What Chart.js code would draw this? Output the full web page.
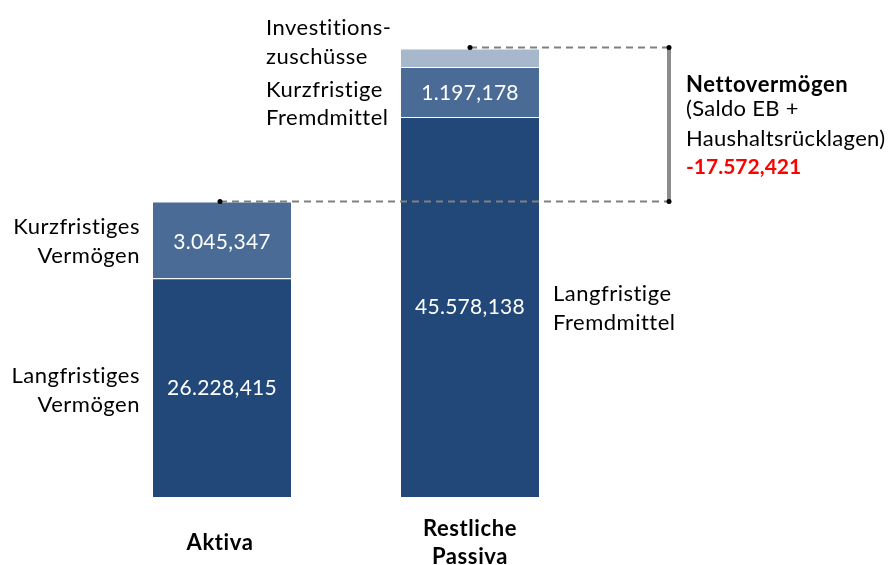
<!DOCTYPE html>
<html lang="de">
<head>
<meta charset="utf-8">
<title>Aktiva und Passiva</title>
<script src="https://cdn.jsdelivr.net/npm/chart.js@4"></script>
<style>
  html, body { margin: 0; padding: 0; background: #fff; }
  #wrap { width: 890px; height: 565px; }
</style>
</head>
<body>
<div id="wrap"><canvas id="bilanz" width="890" height="565"></canvas></div>
<script>
// Kategorien und Werte (Mio. EUR)
const kategorien = ["Aktiva", "Restliche Passiva"];
const langfristig = [26.228415, 45.578138];
// die kleinen Bloecke sind im Bild vergroessert gezeichnet -> Hoehe aus dem Bild gelesen
const kurzfristigHoehe = [9.2, 6.0];
const zuschuesseHoehe = [null, 2.2];
// Beschriftungen der Bloecke
const langfristigText = ["26.228,415", "45.578,138"];
const kurzfristigText = ["3.045,347", "1.197,178"];
const nettoText = "-17.572,421";

const dunkel = "#214878";
const mittel = "#4a6b96";
const hell = "#a7b7cc";
const schrift = "Lato, 'DejaVu Sans', sans-serif";

function text(ctx, t, x, y, align, groesse, fett, farbe, abstand) {
  ctx.font = (fett ? "bold " : "") + groesse + "px " + schrift;
  ctx.letterSpacing = (abstand === undefined ? 0.5 : abstand) + "px";
  ctx.textAlign = align;
  ctx.textBaseline = "middle";
  ctx.fillStyle = farbe || "#000";
  ctx.fillText(t, x, y);
}

function punkt(ctx, x, y) {
  ctx.beginPath();
  ctx.arc(x, y, 2.5, 0, Math.PI * 2);
  ctx.fillStyle = "#000";
  ctx.fill();
}

const beschriftung = {
  id: "beschriftung",
  afterDraw(chart) {
    const ctx = chart.ctx;
    const x = chart.scales.x, y = chart.scales.y;
    const xa = x.getPixelForValue(0), xp = x.getPixelForValue(1);
    const obenA = y.getPixelForValue(langfristig[0] + kurzfristigHoehe[0]);
    const obenP = y.getPixelForValue(langfristig[1] + kurzfristigHoehe[1] + zuschuesseHoehe[1]);
    const langA = y.getPixelForValue(langfristig[0]);
    const langP = y.getPixelForValue(langfristig[1]);
    const kurzP = y.getPixelForValue(langfristig[1] + kurzfristigHoehe[1]);
    const klammerX = xp + 199;
    const g = 22;

    ctx.save();
    // gestrichelte Linien
    ctx.strokeStyle = "#808080";
    ctx.lineWidth = 2;
    ctx.setLineDash([7, 5]);
    ctx.beginPath();
    ctx.moveTo(xa - 2, obenA);
    ctx.lineTo(klammerX, obenA);
    ctx.moveTo(xp, obenP - 1);
    ctx.lineTo(klammerX, obenP - 1);
    ctx.stroke();
    ctx.setLineDash([]);
    // Klammer
    ctx.strokeStyle = "#8c8c8c";
    ctx.lineWidth = 4;
    ctx.beginPath();
    ctx.moveTo(klammerX, obenP - 1);
    ctx.lineTo(klammerX, obenA);
    ctx.stroke();
    punkt(ctx, xa - 2, obenA);
    punkt(ctx, xp, obenP - 1);
    punkt(ctx, klammerX, obenP - 1);
    punkt(ctx, klammerX, obenA);

    // Werte in den Balken
    text(ctx, kurzfristigText[0], xa, (obenA + langA) / 2 + 2, "center", 21, false, "#fff", 0.3);
    text(ctx, langfristigText[0], xa, 388, "center", 21, false, "#fff", 0.3);
    text(ctx, langfristigText[1], xp, 307, "center", 21, false, "#fff", 0.3);
    text(ctx, kurzfristigText[1], xp, (kurzP + langP) / 2 + 1, "center", 21, false, "#fff", 0.3);

    // Aktiva links
    const links = xa - 82;
    text(ctx, "Kurzfristiges", links, 227, "right", g);
    text(ctx, "Vermögen", links, 256, "right", g);
    text(ctx, "Langfristiges", links, 376, "right", g);
    text(ctx, "Vermögen", links, 405, "right", g);

    // Passiva links oben
    const lp = xp - 204;
    text(ctx, "Investitions-", lp, 28, "left", g);
    text(ctx, "zuschüsse", lp, 57, "left", g);
    text(ctx, "Kurzfristige", lp, 90, "left", g);
    text(ctx, "Fremdmittel", lp, 118, "left", g);

    // Passiva rechts
    text(ctx, "Langfristige", xp + 83, 294, "left", g);
    text(ctx, "Fremdmittel", xp + 83, 323, "left", g);

    // Nettovermoegen
    const nx = klammerX + 17;
    text(ctx, "Nettovermögen", nx, 85, "left", g, true, "#000", 0.6);
    text(ctx, "(Saldo EB +", nx, 109, "left", g, false, "#000", 0.3);
    text(ctx, "Haushaltsrücklagen)", nx, 139, "left", g, false, "#000", 0.3);
    text(ctx, nettoText, nx, 167, "left", 21, true, "#ff0000", 0);

    // Kategorien
    text(ctx, "Aktiva", xa - 2, 543, "center", g, true, "#000", 0.6);
    text(ctx, "Restliche", xp, 529, "center", g, true, "#000", 0.6);
    text(ctx, "Passiva", xp, 557, "center", g, true, "#000", 0.6);
    ctx.restore();
  }
};

new Chart(document.getElementById("bilanz"), {
  type: "bar",
  data: {
    labels: kategorien,
    datasets: [
      { label: "Langfristig", data: langfristig, backgroundColor: dunkel },
      { label: "Kurzfristig", data: kurzfristigHoehe, backgroundColor: mittel },
      { label: "Investitionszuschüsse", data: zuschuesseHoehe, backgroundColor: hell }
    ]
  },
  options: {
    responsive: false,
    animation: false,
    events: [],
    layout: { padding: { left: 98, right: 296, top: 30, bottom: 68 } },
    datasets: {
      bar: {
        barPercentage: 1,
        categoryPercentage: 0.5645,
        borderColor: "rgba(255,255,255,0.18)",
        borderWidth: 1,
        borderSkipped: "start"
      }
    },
    plugins: { legend: { display: false }, tooltip: { enabled: false } },
    scales: {
      x: { stacked: true, display: false },
      y: { stacked: true, display: false, min: 0, max: 56 }
    }
  },
  plugins: [beschriftung]
});
</script>
</body>
</html>
